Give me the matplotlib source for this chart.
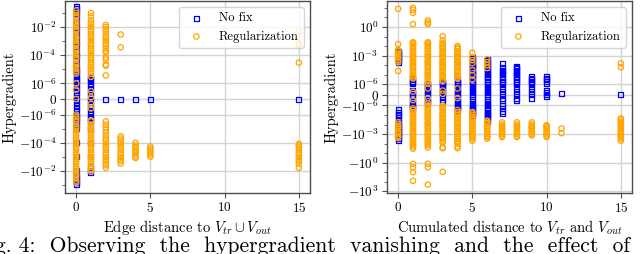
import numpy as np
import matplotlib
matplotlib.use("Agg")
import matplotlib.pyplot as plt
from matplotlib.ticker import FuncFormatter, FixedLocator, NullFormatter

plt.rcParams['font.family'] = 'cmr10'
plt.rcParams['mathtext.fontset'] = 'cm'
plt.rcParams['axes.formatter.use_mathtext'] = True
plt.rcParams['axes.unicode_minus'] = False

# left panel: edge distance to V_tr u V_out  (x -> hypergradient values)
edge_nofix = {
    0: [3e-1, 2e-1, 1.5e-1, 1e-1, 5e-2, 2e-2, 1e-2, 5e-3, 2e-3, 1e-3, 5e-4, 2e-4, 1e-4,
        5e-5, 2e-5, 1e-5, 7e-6, 5e-6, 3e-6, 2e-6, 1.5e-6, 1e-6, 8e-7, 6e-7, 4e-7, 2e-7, 0,
        -2e-7, -4e-7, -6e-7, -8e-7, -1e-6, -1.5e-6, -2e-6, -3e-6, -5e-6, -1e-5, -1e-4,
        -1e-3, -1e-2, -2e-2, -3e-2, -5e-2, -7e-2, -9e-2],
    1: [2.5e-6, 2e-6, 1.5e-6, 1e-6, 8e-7, 6e-7, 4e-7, 2e-7, 0, -2e-7, -4e-7, -6e-7, -8e-7,
        -1e-6, -1.5e-6, -2e-6, -3e-6, -1e-5, -1e-4, -1e-3, -5e-3, -1e-2, -1.3e-2],
    2: [0], 3: [0], 4: [0], 5: [0], 15: [0],
}
edge_reg = {
    0: [1.5e-1, 1e-1, 7e-2, 5e-2, 3e-2, 2e-2, 1.5e-2, 1e-2, 7e-3, 5e-3, 3e-3, 2e-3, 1.5e-3,
        1e-3, 7e-4, 5e-4, 3e-4, 2e-4, 1.5e-4, 1e-4, 7e-5, 5e-5, 3e-5, 2e-5, 1.5e-5, 1e-5,
        7e-6, 5e-6, 1e-6, 6e-7, 0, -1e-6, -1.5e-6, -2e-6, -3e-6, -5e-6, -7e-6, -1e-5,
        -1.5e-5, -2e-5, -3e-5, -5e-5, -7e-5, -1e-4, -1.5e-4, -2e-4, -3e-4, -5e-4, -7e-4,
        -1e-3, -1.5e-3, -2e-3, -3e-3, -5e-3, -7e-3, -1e-2, -1.5e-2, -2e-2, -3e-2, -5e-2, -7e-2],
    1: [1e-1, 6e-2, 3e-2, 2e-2, 1.5e-2, 1e-2, 7e-3, 5e-3, 3e-3, 2e-3, 1.5e-3, 1e-3, 7e-4,
        5e-4, 3e-4, 2e-4, 1.5e-4, 1e-4, 7e-5, 5e-5, 3e-5, 2e-5, 1.5e-5, 1e-5, 7e-6, 5e-6,
        3e-6, 5e-7, 1e-7, -3e-7, -6e-7, -2.5e-6, -3e-6, -5e-6, -7e-6, -1e-5, -1.5e-5, -2e-5,
        -3e-5, -5e-5, -7e-5, -1e-4, -1.5e-4, -2e-4, -3e-4, -5e-4, -7e-4, -1e-3, -1.5e-3,
        -2e-3, -3e-3, -5e-3, -7e-3, -1.1e-2],
    2: [1.4e-2, 1e-2, 7e-3, 5e-3, 3e-3, 2e-3, 1.5e-3, 1e-3, 7e-4, 5e-4, 3e-4, 2e-4, 1.6e-4,
        7e-5, 5e-5, 2.2e-5, 1.8e-5, 3.7e-6, -3e-6, -5e-6, -8e-6, -1.2e-5, -1.8e-5, -3e-5,
        -5e-5, -7e-5, -1e-4, -1.5e-4, -2e-4, -3e-4, -5e-4, -7e-4, -1e-3, -1.5e-3, -2e-3,
        -3e-3, -4e-3, -6e-3],
    3: [3e-3, 3.7e-4, -3.5e-5, -5e-5, -7e-5, -1e-4, -1.5e-4, -2e-4, -3e-4, -5e-4, -7e-4,
        -1e-3, -1.5e-3, -2e-3, -3e-3],
    4: [-1e-4, -1.5e-4, -2e-4, -3e-4, -4e-4, -5e-4, -7e-4, -1e-3, -1.2e-3],
    5: [-1.8e-4, -2.5e-4, -3.5e-4, -5e-4, -7e-4, -1e-3],
    15: [5e-3, 7e-4, 5e-4, 3e-5, -1.2e-4, -1.5e-4, -2e-4, -3e-4, -5e-4, -7e-4, -1e-3,
         -1.5e-3, -2e-3, -3e-3, -6e-3],
}

# right panel: cumulated distance to V_tr and V_out
cum_nofix = {
    0: [2.4e-3, 2e-3, 1.5e-3, 1e-3, 7e-4, 5e-4, 3e-4, 2e-4, -3e-6, -5e-6, -8e-6, -1.2e-5,
        -2e-5, -4e-5, -6e-5, -1e-4, -1.5e-4, -2e-4, -3e-4, -5e-4, -7e-4, -1e-3, -1.5e-3,
        -2e-3, -3e-3, -5e-3],
    1: [4e-6, 3e-6, 2e-6, 1.5e-6, 1.2e-6, 4e-7, 2e-7, 0, -2e-7, -4e-7, -6e-7, -8e-7, -1e-6,
        -1.5e-6, -2e-6],
    2: [1.2e-6, 1e-6, 8e-7, 6e-7, 4e-7, 2e-7, 0, -2e-7, -4e-7, -6e-7, -8e-7],
    3: [1.8e-6, 1.5e-6, 1.2e-6, 1e-6, 8e-7, 6e-7, 4e-7, 2e-7, 0, -2e-7, -4e-7, -7e-7],
    4: [3e-6, 2e-6, 1.5e-6, 1e-6, 8e-7, 6e-7, 4e-7, 2e-7, 0, -2e-7, -4e-7, -6e-7, -8e-7,
        -1e-6, -1.5e-6, -2e-6, -3e-6],
    5: [6e-4, 5e-4, 3e-4, 2e-4, 1.5e-4, 1e-4, 7e-5, 5e-5, 3e-5, 2e-5, 1.5e-5, 1e-5, 7e-6,
        5e-6, 3e-6, 2e-6, 1.5e-6, 1e-6, 8e-7, 6e-7, 4e-7, 2e-7, 0, -2e-7, -4e-7, -6e-7,
        -8e-7, -1e-6, -1.5e-6, -2e-6, -3e-6, -5e-6, -7e-6, -1.1e-5],
    6: [4e-4, 3e-4, 2e-4, 1.5e-4, 1e-4, 7e-5, 5e-5, 3e-5, 2e-5, 1.5e-5, 1e-5, 7e-6, 5e-6,
        3e-6, 2e-6, 1.5e-6, 1e-6, 8e-7, 6e-7, 4e-7, 2e-7, 0, -2e-7, -4e-7, -6e-7, -8e-7,
        -1e-6, -1.5e-6, -2e-6, -3e-6, -5e-6, -7e-6, -1e-5, -1.5e-5, -2e-5, -3e-5, -5e-5],
    7: [1.6e-4, 6e-5, 3e-5, 2e-5, 1.5e-5, 1e-5, 5e-6, 3e-6, 2e-6, 1.5e-6, 1e-6, 6e-7, 3e-7,
        0, -3e-7, -5e-7, -1e-6, -2e-6, -4e-6, -7e-6],
    8: [8e-5, 6e-5, 4e-5, 3e-5, 2e-5, 1.5e-5, 1e-5, 7e-6, 5e-6, 3e-6, 2e-6, 1.5e-6, 1e-6,
        6e-7, 3e-7, 0, -3e-7, -5e-7],
    9: [6e-6, 4e-6, 3e-6, 2e-6, 1.5e-6, 1e-6, 6e-7, 3e-7, 0, -3e-7],
    10: [6e-6, 4e-6, 3e-6, 2e-6, 1.2e-6, 4e-7, 2e-7, 0, -2e-7],
    11: [1e-7],
    15: [0],
}
cum_reg = {
    0: [80, 1.6e-2, 4e-3, 3e-3, 2e-3, 1.5e-3, 1e-3, 7e-4, 5e-4, 3e-4, 2e-4, 2.5e-5, -6e-5,
        -1e-4, -1.5e-4, -2e-4, -3e-4, -5e-4, -7e-4, -1e-3, -1.5e-3, -2e-3, -2.6e-3],
    1: [100, 60, 30, 2, 2.5e-2, 2e-2, 1.5e-2, 1e-2, 7e-3, 5e-3, 3e-3, 2e-3, 1.5e-3, 1e-3,
        7e-4, 5e-4, 3e-4, 2e-4, 1.5e-4, 1e-4, 7e-5, 5e-5, 3e-5, 2e-5, 1.5e-5, 1e-5, 7e-6,
        5e-6, 4e-6, 3e-7, -5e-7, -2e-6, -3e-6, -5e-6, -7e-6, -1e-5, -1.5e-5, -2e-5, -3e-5,
        -5e-5, -7e-5, -1e-4, -1.5e-4, -2e-4, -3e-4, -5e-4, -7e-4, -1e-3, -1.5e-3, -2e-3,
        -3e-3, -5e-3, -7e-3, -1e-2, -1.5e-2, -2e-2, -3.4e-2, -1.3, -3, -10, -80],
    2: [5, 3, 2, 2.5e-2, 2e-2, 1.5e-2, 1e-2, 7e-3, 5e-3, 3e-3, 2e-3, 1.5e-3, 1e-3, 7e-4,
        5e-4, 3e-4, 2e-4, 1.5e-4, 1e-4, 7e-5, 5e-5, 3e-5, 2e-5, 1.5e-5, 1e-5, 7e-6, 5e-6,
        3e-6, 2e-6, 1.2e-6, 6e-7, -3e-7, -8e-7, -1e-6, -1.5e-6, -2e-6, -3e-6, -5e-6, -7e-6,
        -1e-5, -1.5e-5, -2e-5, -3e-5, -5e-5, -7e-5, -1e-4, -1.5e-4, -2e-4, -3e-4, -5e-4,
        -7e-4, -1e-3, -1.5e-3, -2e-3, -3e-3, -5e-3, -7e-3, -1e-2, -1.5e-2, -2.6e-2, -1.3,
        -3, -200],
    3: [1.1e-1, 4e-2, 2e-2, 1.5e-2, 1e-2, 7e-3, 5e-3, 3e-3, 2e-3, 1.5e-3, 1e-3, 7e-4, 5e-4,
        3e-4, 2e-4, 1.5e-4, 1e-4, 7e-5, 5e-5, 3e-5, 2e-5, 1.5e-5, 1e-5, 7e-6, 5e-6, 3e-6,
        2e-6, 4e-7, 1e-7, -1e-6, -1.5e-6, -2e-6, -3e-6, -5e-6, -7e-6, -1e-5, -1.5e-5, -2e-5,
        -3e-5, -5e-5, -7e-5, -1e-4, -1.5e-4, -2e-4, -3e-4, -5e-4, -7e-4, -1e-3, -1.5e-3,
        -2e-3, -3e-3, -5e-3, -8e-3, -2.5e-2, -3e-2, -9],
    4: [1e-2, 7e-3, 5e-3, 3e-3, 2e-3, 1.5e-3, 1e-3, 7e-4, 5e-4, 3e-4, 2e-4, 1.5e-4, 1e-4,
        7e-5, 5e-5, 3e-5, 2e-5, 1.5e-5, 1e-5, 7e-6, 5e-6, 4e-6, 6e-7, -3e-7, -3e-6, -5e-6,
        -7e-6, -1e-5, -1.5e-5, -2e-5, -3e-5, -5e-5, -7e-5, -1e-4, -1.5e-4, -2e-4, -3e-4,
        -5e-4, -7e-4, -1e-3, -1.5e-3, -2e-3, -3e-3, -5e-3, -7e-3, -1e-2, -2e-2, -3e-2],
    5: [2e-3, 7e-4, 3.3e-4, 1.6e-4, 3e-5, 9e-6, 3e-6, -5e-6, -7e-6, -1e-5, -1.5e-5, -2e-5,
        -3e-5, -5e-5, -7e-5, -1e-4, -1.5e-4, -2e-4, -3e-4, -5e-4, -7e-4, -1e-3, -1.5e-3,
        -2e-3, -3e-3, -5e-3],
    6: [4e-4, 2e-4, 1e-4, 5e-5, -4e-5, -5e-5, -7e-5, -1e-4, -1.5e-4, -2e-4, -3e-4, -5e-4,
        -7e-4, -1e-3, -1.5e-3, -2e-3, -3e-3],
    7: [-6e-5, -1e-4, -1.5e-4, -2e-4, -3e-4, -5e-4, -7e-4, -1e-3, -1.5e-3, -2e-3],
    8: [-6e-5, -1e-4, -1.5e-4, -2e-4, -3e-4, -5e-4, -7e-4, -1e-3, -1.5e-3, -2e-3],
    9: [-6e-5, -1e-4, -1.5e-4, -2e-4, -3e-4, -5e-4, -7e-4, -1e-3, -1.4e-3],
    10: [-1.2e-4, -1.5e-4, -2e-4, -3e-4, -5e-4, -7e-4, -1e-3, -1.5e-3, -2e-3],
    11: [-2.6e-4, -8e-4],
    15: [1.6e-4, 6e-5, -2.3e-5, -3e-5, -5e-5, -7e-5, -1e-4, -1.5e-4, -2e-4, -3e-4, -5e-4,
         -7e-4, -1e-3, -1.5e-3, -2e-3, -3e-3, -5e-3],
}

edge_yticks = [-1e-2, -1e-4, -1e-6, 0, 1e-6, 1e-4, 1e-2]
edge_yminor = [-1e-1, -1e-3, -1e-5, 1e-5, 1e-3, 1e-1]
cum_yticks = [-1e3, -1e0, -1e-3, -1e-6, 0, 1e-6, 1e-3, 1e0]
cum_yminor = [-1e2, -1e1, -1e-1, -1e-2, -1e-4, -1e-5, 1e-5, 1e-4, 1e-2, 1e-1, 1e1, 1e2]
xticks = [0, 5, 10, 15]
edge_ylim = (-0.37, 0.72)
cum_ylim = (-1500, 530)


def flat(d):
    xs = np.concatenate([[x] * len(ys) for x, ys in d.items()])
    ys = np.concatenate([ys for ys in d.values()])
    return xs, ys


def ylab(v, pos):
    if v == 0:
        return r'$0$'
    e = int(round(np.log10(abs(v))))
    return r'$%s10^{%d}$' % ('-' if v < 0 else '', e)


fig = plt.figure(figsize=(6.4, 2.54), dpi=100)
ax1 = fig.add_axes([65 / 640, 61 / 254, 245 / 640, 192 / 254])
ax2 = fig.add_axes([387 / 640, 61 / 254, 245 / 640, 192 / 254])

panels = [
    (ax1, edge_nofix, edge_reg, edge_yticks, edge_yminor, edge_ylim,
     r'Edge distance to $V_{tr} \cup V_{out}$'),
    (ax2, cum_nofix, cum_reg, cum_yticks, cum_yminor, cum_ylim,
     r'Cumulated distance to $V_{tr}$ and $V_{out}$'),
]
for ax, nofix, reg, yt, ym, yl, xl in panels:
    ax.set_yscale('symlog', linthresh=1e-6, linscale=1)
    ax.set_axisbelow(True)
    ax.grid(True, color='#d3d3d3', lw=1.0)
    x, y = flat(nofix)
    ax.scatter(x, y, marker='s', s=13, facecolors='none', edgecolors='blue',
               linewidths=0.9, label='No fix', zorder=2)
    x, y = flat(reg)
    ax.scatter(x, y, marker='o', s=15, facecolors='none', edgecolors='orange',
               linewidths=0.9, label='Regularization', zorder=3)
    ax.set_xlim(-0.75, 15.75)
    ax.set_ylim(*yl)
    ax.set_yticks(yt)
    ax.yaxis.set_minor_locator(FixedLocator(ym))
    ax.yaxis.set_minor_formatter(NullFormatter())
    ax.set_xticks(xticks)
    ax.yaxis.set_major_formatter(FuncFormatter(ylab))
    ax.xaxis.set_major_formatter(FuncFormatter(lambda v, p: r'$%d$' % v))
    ax.tick_params(labelsize=9.5, length=3.5, width=0.8, color='0.3', pad=2.5)
    ax.tick_params(which='minor', length=2, width=0.6, color='0.3')
    for sp in ax.spines.values():
        sp.set_color('0.3')
        sp.set_linewidth(1.0)
    ax.set_xlabel(xl, fontsize=10.5, labelpad=2)
    ax.set_ylabel('Hypergradient', fontsize=10.5, labelpad=2)
    ax.legend(loc='upper right', fontsize=9, scatterpoints=1, handletextpad=0.8,
              borderaxespad=0.5, framealpha=0.8)

fig.text(-25 / 640, 1.5 / 254,
         'Fig. 4:  Observing  the  hypergradient  vanishing  and  the  effect  of',
         fontsize=15.5, va='baseline', ha='left')

fig.savefig('out.png', dpi=100)
